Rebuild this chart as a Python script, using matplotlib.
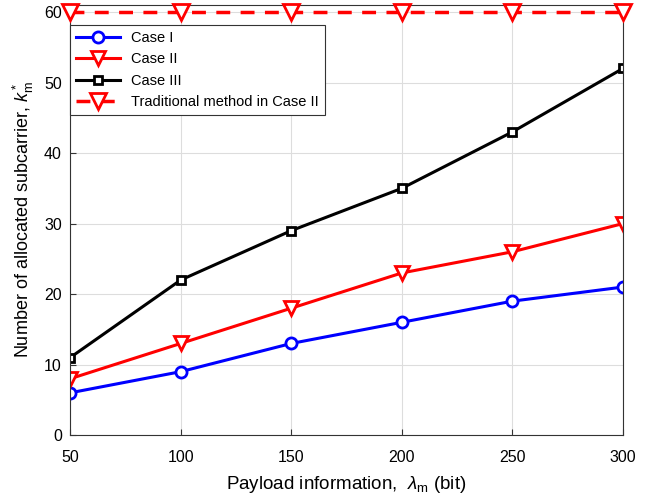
import matplotlib
matplotlib.use("Agg")
import matplotlib.pyplot as plt

payload = [50, 100, 150, 200, 250, 300]
case1 = [6, 9, 13, 16, 19, 21]
case2 = [8, 13, 18, 23, 26, 30]
case3 = [11, 22, 29, 35, 43, 52]
traditional = [60, 60, 60, 60, 60, 60]

plt.rcParams["font.family"] = ["Liberation Sans", "DejaVu Sans"]
plt.rcParams["mathtext.fontset"] = "custom"
plt.rcParams["mathtext.it"] = "Liberation Sans:italic"
plt.rcParams["mathtext.rm"] = "Liberation Sans"

fig = plt.figure(figsize=(6.62, 4.99), dpi=100)
ax = fig.add_axes([0.106, 0.128, 0.835, 0.862])

ax.plot(payload, case1, color="#0000ff", lw=2.2, marker="o", ms=8, mfc="white",
        mec="#0000ff", mew=2, label="Case I")
ax.plot(payload, case2, color="#ff0000", lw=2.2, marker="v", ms=10, mfc="white",
        mec="#ff0000", mew=2, label="Case II")
ax.plot(payload, case3, color="black", lw=2.2, marker="s", ms=6, mfc="white",
        mec="black", mew=2, label="Case III")
ax.plot(payload, traditional, color="#ff0000", lw=2.5, ls=(0, (4, 3)), marker="v",
        ms=11, mfc="white", mec="#ff0000", mew=2, label="Traditional method in Case II",
        clip_on=False, zorder=5)

ax.set_xlim(50, 300)
ax.set_ylim(0, 61)
ax.set_xticks(payload)
ax.set_yticks(range(0, 61, 10))
ax.tick_params(direction="in", labelsize=11.5, length=4, color="#333333")
ax.tick_params(axis="y", pad=6)
ax.tick_params(axis="x", pad=11)
ax.grid(True, color="#dddddd", lw=0.8)
for s in ax.spines.values():
    s.set_color("#333333")
    s.set_linewidth(0.8)

ax.set_xlabel(r"Payload information,  $\lambda_{\rm m}$ (bit)", fontsize=13.5, labelpad=6)
ax.set_ylabel(r"Number of allocated subcarrier, $k^*_{\rm m}$", fontsize=13, labelpad=6)

leg = ax.legend(loc="upper left", bbox_to_anchor=(0.0, 0.953), fontsize=10.5,
                fancybox=False, framealpha=1, edgecolor="#333333",
                handlelength=3.0, borderaxespad=0.0)
leg.get_frame().set_linewidth(0.8)

fig.savefig("out.png", dpi=100)
